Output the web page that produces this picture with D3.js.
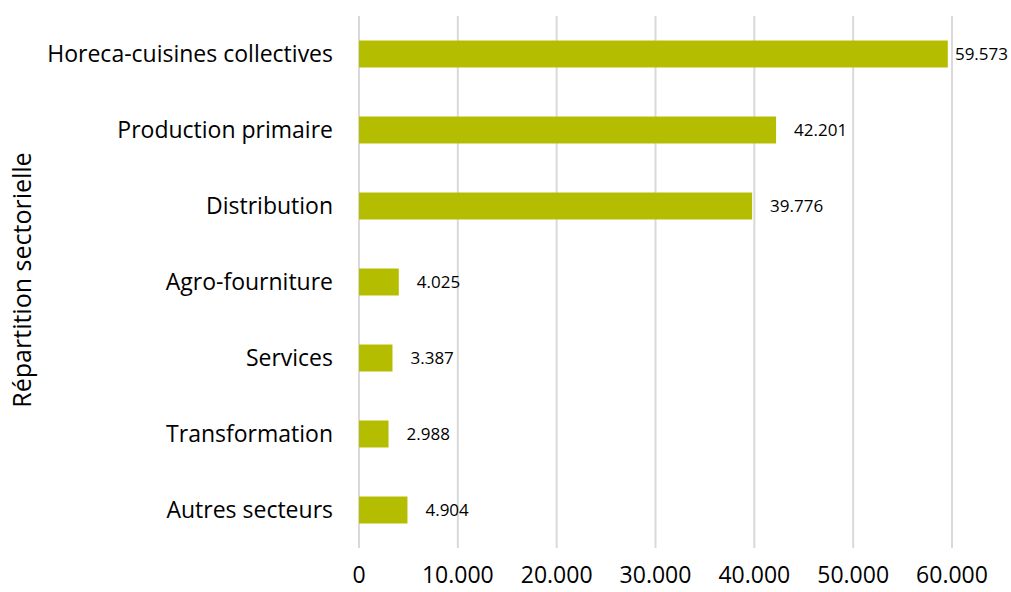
<!DOCTYPE html>
<html>
<head>
<meta charset="utf-8">
<script src="https://cdnjs.cloudflare.com/ajax/libs/d3/7.8.5/d3.min.js"></script>
<style>
  body { margin: 0; background: #fff; }
  text { font-family: "Open Sans", "Liberation Sans", sans-serif; fill: #000; }
</style>
</head>
<body>
<script>
var categories = ['Horeca-cuisines collectives', 'Production primaire', 'Distribution',
                  'Agro-fourniture', 'Services', 'Transformation', 'Autres secteurs'];
var values = [59573, 42201, 39776, 4025, 3387, 2988, 4904];
var ticks = [0, 10000, 20000, 30000, 40000, 50000, 60000];

var width = 1011, height = 592;
var margin = {top: 16, right: 58, bottom: 44, left: 359};

var svg = d3.select('body').append('svg')
            .attr('width', width).attr('height', height);

var x = d3.scaleLinear().domain([0, 60000])
          .range([margin.left, 952]);
var y = d3.scaleBand().domain(categories)
          .range([margin.top, height - margin.bottom])
          .paddingInner(0.645).paddingOuter(0.3225);

function fmt(v) {
    return d3.format(',')(v).replace(/,/g, '.');
}

// gridlines
svg.append('g').selectAll('line').data(ticks).enter().append('line')
   .attr('x1', function (d) { return x(d); })
   .attr('x2', function (d) { return x(d); })
   .attr('y1', margin.top)
   .attr('y2', height - margin.bottom)
   .style('stroke', '#d9d9d9')
   .style('stroke-width', 2);

// x tick labels
svg.append('g').selectAll('text').data(ticks).enter().append('text')
   .attr('x', function (d) { return x(d); })
   .attr('y', 583)
   .attr('text-anchor', 'middle')
   .style('font-size', '23px')
   .text(fmt);

// bars
svg.append('g').selectAll('rect').data(values).enter().append('rect')
   .attr('x', x(0))
   .attr('y', function (d, i) { return y(categories[i]); })
   .attr('width', function (d) { return x(d) - x(0); })
   .attr('height', y.bandwidth())
   .style('fill', '#b5bd00');

// value labels, pushed back inside the frame when needed
svg.append('g').selectAll('text').data(values).enter().append('text')
   .attr('y', function (d, i) { return y(categories[i]) + y.bandwidth() / 2; })
   .attr('dy', '0.35em')
   .style('font-size', '17px')
   .text(fmt)
   .attr('x', function (d) {
       var w = this.getComputedTextLength();
       return Math.min(x(d) + 18, width - w - 3);
   });

// category labels
svg.append('g').selectAll('text').data(categories).enter().append('text')
   .attr('x', 333)
   .attr('y', function (d) { return y(d) + y.bandwidth() / 2; })
   .attr('dy', '0.35em')
   .attr('text-anchor', 'end')
   .style('font-size', '23px')
   .text(function (d) { return d; });

// axis title
svg.append('text')
   .attr('transform', 'translate(31,' + ((margin.top + height - margin.bottom) / 2 - 2) + ') rotate(-90)')
   .attr('text-anchor', 'middle')
   .style('font-size', '25px')
   .text('Répartition sectorielle');
</script>
</body>
</html>
